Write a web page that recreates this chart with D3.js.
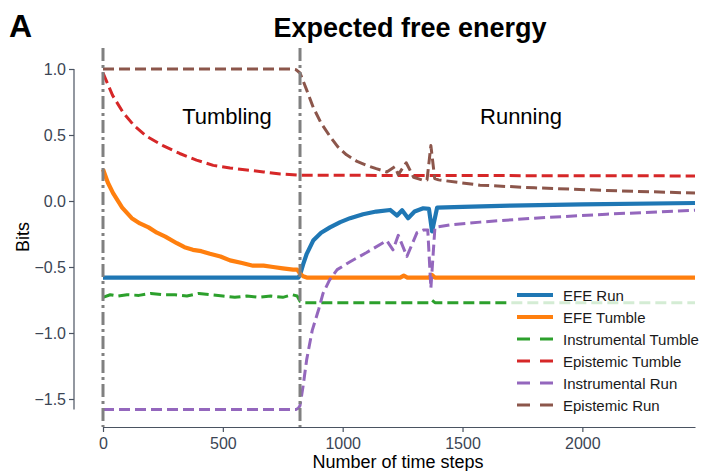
<!DOCTYPE html>
<html>
<head>
<meta charset="utf-8">
<script src="https://cdn.jsdelivr.net/npm/d3@7"></script>
<style>
  body { margin: 0; background: #fff; }
  text { font-family: "Liberation Sans", Arial, Helvetica, sans-serif; }
</style>
</head>
<body>
<script>
var WIDTH = 702;
var HEIGHT = 471;

// series data (time step, bits)
var efeRunT = [0, 815, 822, 835, 850, 877, 910, 947, 990, 1031, 1085, 1140, 1198, 1227, 1248, 1273, 1300, 1336, 1360, 1373, 1394, 1500, 1700, 2000, 2470];
var efeRunV = [-0.58, -0.58, -0.56, -0.48, -0.40, -0.30, -0.24, -0.20, -0.16, -0.13, -0.10, -0.08, -0.068, -0.11, -0.07, -0.13, -0.08, -0.055, -0.06, -0.23, -0.05, -0.045, -0.035, -0.025, -0.015];

var efeTumbleT = [0, 20, 42, 80, 120, 154, 190, 225, 260, 308, 340, 375, 410, 446, 490, 530, 580, 626, 670, 710, 750, 793, 810, 822, 835, 850, 1240, 1255, 1270, 1360, 1372, 1385, 2470];
var efeTumbleV = [0.24, 0.14, 0.06, -0.05, -0.13, -0.17, -0.20, -0.24, -0.27, -0.32, -0.35, -0.37, -0.38, -0.40, -0.42, -0.45, -0.47, -0.49, -0.49, -0.50, -0.51, -0.52, -0.52, -0.55, -0.57, -0.58, -0.58, -0.565, -0.58, -0.58, -0.56, -0.58, -0.58];

var instTumbleT = [0, 30, 60, 100, 150, 200, 250, 300, 350, 400, 450, 500, 550, 600, 650, 700, 750, 790, 810, 822, 840, 1360, 1372, 1385, 2470];
var instTumbleV = [-0.73, -0.71, -0.72, -0.71, -0.715, -0.70, -0.71, -0.71, -0.72, -0.70, -0.71, -0.72, -0.73, -0.72, -0.73, -0.72, -0.73, -0.71, -0.72, -0.76, -0.77, -0.77, -0.75, -0.77, -0.77];

var episTumbleT = [0, 40, 84, 130, 182, 250, 320, 390, 460, 530, 600, 670, 740, 822, 2470];
var episTumbleV = [0.97, 0.80, 0.67, 0.57, 0.49, 0.42, 0.36, 0.31, 0.27, 0.25, 0.235, 0.22, 0.205, 0.195, 0.19];

var instRunT = [0, 805, 815, 822, 835, 850, 873, 900, 918, 945, 977, 1031, 1100, 1184, 1210, 1232, 1268, 1310, 1336, 1355, 1368, 1385, 1450, 1573, 1800, 2100, 2470];
var instRunV = [-1.58, -1.58, -1.57, -1.55, -1.40, -1.20, -0.98, -0.82, -0.70, -0.60, -0.52, -0.46, -0.39, -0.30, -0.37, -0.26, -0.42, -0.24, -0.22, -0.22, -0.66, -0.20, -0.18, -0.16, -0.13, -0.10, -0.07];

var episRunT = [0, 790, 805, 822, 850, 877, 910, 947, 980, 1016, 1060, 1100, 1140, 1184, 1218, 1232, 1265, 1296, 1331, 1352, 1368, 1384, 1400, 1573, 1800, 2100, 2470];
var episRunV = [1.0, 1.0, 0.995, 0.97, 0.84, 0.71, 0.59, 0.49, 0.41, 0.35, 0.30, 0.27, 0.245, 0.22, 0.26, 0.20, 0.29, 0.18, 0.16, 0.16, 0.42, 0.17, 0.16, 0.12, 0.10, 0.08, 0.06];

var seriesNames = ["EFE Run", "EFE Tumble", "Instrumental Tumble", "Epistemic Tumble", "Instrumental Run", "Epistemic Run"];
var switchSteps = [0, 822];
var xTicks = [0, 500, 1000, 1500, 2000];
var yTicks = [1.0, 0.5, 0.0, -0.5, -1.0, -1.5];

var series = [
  {name: seriesNames[0], t: efeRunT, v: efeRunV, color: "#1f77b4", width: 4.2, dash: null},
  {name: seriesNames[1], t: efeTumbleT, v: efeTumbleV, color: "#ff7f0e", width: 4.2, dash: null},
  {name: seriesNames[2], t: instTumbleT, v: instTumbleV, color: "#2ca02c", width: 3, dash: "11,5"},
  {name: seriesNames[3], t: episTumbleT, v: episTumbleV, color: "#d62728", width: 3, dash: "11,5"},
  {name: seriesNames[4], t: instRunT, v: instRunV, color: "#9467bd", width: 3, dash: "11,5"},
  {name: seriesNames[5], t: episRunT, v: episRunV, color: "#8c564b", width: 3, dash: "11,5"}
];

var xScale = d3.scaleLinear().domain([0, 2470]).range([103, 695]);
var yScale = d3.scaleLinear().domain([-1.5, 1.0]).range([399, 69]);

var svg = d3.select("body").append("svg")
  .attr("width", WIDTH)
  .attr("height", HEIGHT);

var line = d3.line()
  .x(function (d) { return xScale(d[0]); })
  .y(function (d) { return yScale(d[1]); });

// series
series.forEach(function (s) {
  var pts = s.t.map(function (t, i) { return [t, s.v[i]]; });
  svg.append("path")
    .attr("d", line(pts))
    .attr("fill", "none")
    .attr("stroke", s.color)
    .attr("stroke-width", s.width)
    .attr("stroke-linejoin", "round")
    .attr("stroke-dasharray", s.dash);
});

// phase lines
svg.selectAll(".vline")
  .data(switchSteps)
  .enter()
  .append("line")
  .attr("x1", function (d) { return xScale(d); })
  .attr("x2", function (d) { return xScale(d); })
  .attr("y1", 48)
  .attr("y2", 427)
  .attr("stroke", "#808080")
  .attr("stroke-width", 3)
  .attr("stroke-dasharray", "13,4,3,4");

// axes
var yAxis = d3.axisLeft(yScale).tickValues(yTicks).tickFormat(d3.format(".1f")).tickSize(5).tickSizeOuter(0);
var xAxis = d3.axisBottom(xScale).tickValues(xTicks).tickFormat(d3.format("d")).tickSize(5).tickSizeOuter(0);

var gy = svg.append("g").attr("transform", "translate(74,0)").call(yAxis);
gy.select(".domain").attr("d", "M0," + yScale(1.0) + "V" + yScale(-1.58));
var gx = svg.append("g").attr("transform", "translate(0,427)").call(xAxis);

[gx, gy].forEach(function (g) {
  g.select(".domain").attr("stroke", "#4a5361").attr("stroke-width", 1.2);
  g.selectAll(".tick line").attr("stroke", "#4a5361").attr("stroke-width", 1.2);
  g.selectAll(".tick text")
    .attr("fill", "#3b4554")
    .style("font-size", "16px")
    .style("font-family", "'Liberation Sans', Arial, sans-serif");
});
gy.selectAll(".tick text").text(function (d) { return d3.format(".1f")(d).replace("-", "\u2212"); });
gx.selectAll(".tick text").attr("dy", "0.9em");

// axis labels
svg.append("text")
  .attr("x", 398).attr("y", 468)
  .attr("text-anchor", "middle")
  .style("font-size", "18px")
  .text("Number of time steps");

svg.append("text")
  .attr("transform", "translate(29,237) rotate(-90)")
  .attr("text-anchor", "middle")
  .style("font-size", "18px")
  .text("Bits");

// titles
svg.append("text")
  .attr("x", 410).attr("y", 37)
  .attr("text-anchor", "middle")
  .style("font-size", "27px")
  .style("font-weight", "bold")
  .text("Expected free energy");

svg.append("text")
  .attr("x", 9).attr("y", 37)
  .style("font-size", "32px")
  .style("font-weight", "bold")
  .text("A");

// phase annotations
svg.append("text")
  .attr("x", 227).attr("y", 124)
  .attr("text-anchor", "middle")
  .style("font-size", "22px")
  .text("Tumbling");

svg.append("text")
  .attr("x", 521).attr("y", 124)
  .attr("text-anchor", "middle")
  .style("font-size", "22px")
  .text("Running");

// legend
var legend = svg.append("g");
legend.append("rect")
  .attr("x", 507).attr("y", 284)
  .attr("width", 200).attr("height", 132)
  .attr("fill", "#fff")
  .attr("fill-opacity", 0.8);

var rows = legend.selectAll(".row")
  .data(series)
  .enter()
  .append("g")
  .attr("transform", function (d, i) { return "translate(0," + (295 + i * 22) + ")"; });

rows.append("line")
  .attr("x1", 517).attr("x2", 553)
  .attr("y1", 0).attr("y2", 0)
  .attr("stroke", function (d) { return d.color; })
  .attr("stroke-width", function (d) { return d.width; })
  .attr("stroke-dasharray", function (d) { return d.dash ? "13,10" : null; });

rows.append("text")
  .attr("x", 563).attr("y", 6)
  .attr("fill", "#1a1a1a")
  .style("font-size", "15px")
  .text(function (d) { return d.name; });
</script>
</body>
</html>
